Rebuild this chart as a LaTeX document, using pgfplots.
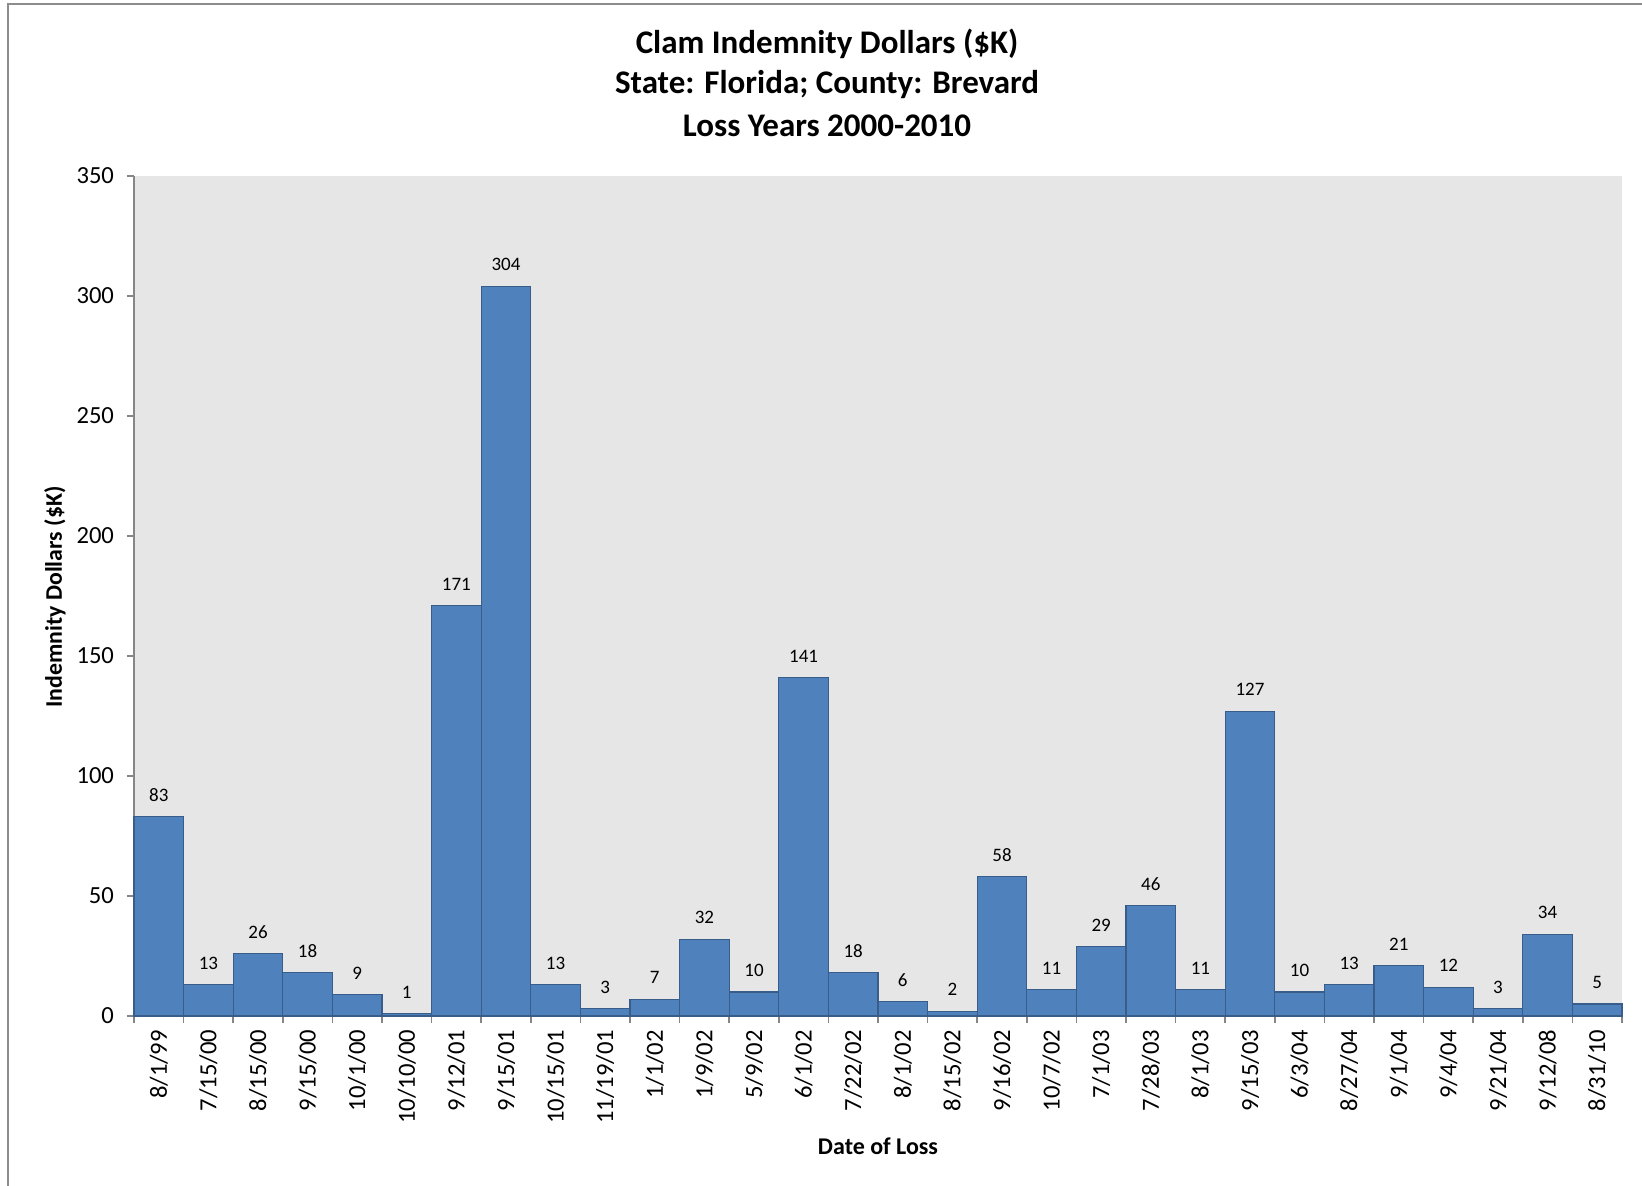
\documentclass[border=0pt]{standalone}
\usepackage{fontspec}
\setmainfont{Carlito}
\usepackage{pgfplots}
\pgfplotsset{compat=1.18}
\definecolor{barfill}{HTML}{4F81BD}
\definecolor{baredge}{HTML}{385D8A}
\definecolor{plotbg}{HTML}{E6E6E6}
\definecolor{axgray}{HTML}{868686}
\definecolor{framegray}{HTML}{8C8C8C}
\begin{document}
\begin{tikzpicture}
\useasboundingbox (0,0) rectangle (821pt,593pt);
\draw[framegray, line width=0.8pt] (4pt,0pt) -- (4pt,591pt) -- (821pt,591pt);
\node[font=\fontsize{16.5}{18}\selectfont\bfseries] at (413.5pt,571pt) {Clam Indemnity Dollars (\$K)};
\node[font=\fontsize{16.5}{18}\selectfont\bfseries] at (413.5pt,550.5pt) {State: Florida; County: Brevard};
\node[font=\fontsize{16.5}{18}\selectfont\bfseries] at (413.5pt,530pt) {Loss Years 2000-2010};
\node[font=\fontsize{11.9}{13}\selectfont\bfseries, rotate=90] at (27.5pt,294.5pt) {Indemnity Dollars (\$K)};
\node[font=\fontsize{12}{14}\selectfont\bfseries] at (439pt,20pt) {Date of Loss};
\begin{axis}[
  at={(67pt,85pt)}, anchor=south west,
  scale only axis, width=744pt, height=420pt,
  xmin=-0.5, xmax=29.5, ymin=0, ymax=350,
  axis x line*=bottom, axis y line*=left,
  axis line style={axgray, line width=0.8pt},
  axis background/.style={fill=plotbg},
  ytick={0,50,...,350},
  xtick={-0.5,0.5,...,29.5},
  x tick label as interval,
  xticklabels={8/1/99,7/15/00,8/15/00,9/15/00,10/1/00,10/10/00,9/12/01,9/15/01,10/15/01,11/19/01,1/1/02,1/9/02,5/9/02,6/1/02,7/22/02,8/1/02,8/15/02,9/16/02,10/7/02,7/1/03,7/28/03,8/1/03,9/15/03,6/3/04,8/27/04,9/1/04,9/4/04,9/21/04,9/12/08,8/31/10},
  x tick label style={rotate=90, anchor=east, font=\fontsize{12.3}{14}\selectfont},
  y tick label style={font=\fontsize{12.3}{14}\selectfont, xshift=-3pt},
  tick style={axgray, line width=0.8pt},
  tick align=outside,
  major tick length=3.5pt,
  xtick pos=bottom, ytick pos=left,
  /pgf/number format/assume math mode=true,
  every node near coord/.append style={font=\fontsize{9.5}{11}\selectfont, yshift=4pt},
  clip=false,
]
\addplot[ybar, bar width=744pt/30, fill=barfill, draw=baredge, line width=0.6pt, nodes near coords] coordinates {
(0,83) (1,13) (2,26) (3,18) (4,9) (5,1) (6,171) (7,304) (8,13) (9,3)
(10,7) (11,32) (12,10) (13,141) (14,18) (15,6) (16,2) (17,58) (18,11) (19,29)
(20,46) (21,11) (22,127) (23,10) (24,13) (25,21) (26,12) (27,3) (28,34) (29,5)
};
\end{axis}
\end{tikzpicture}
\end{document}
